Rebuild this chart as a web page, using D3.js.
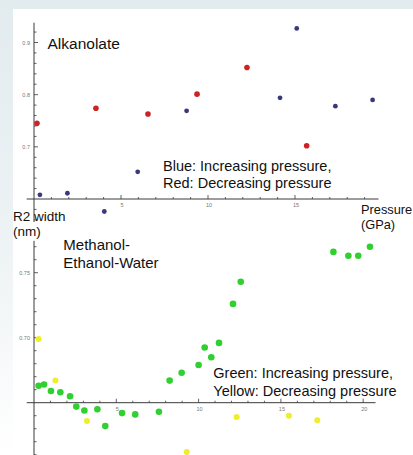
<!DOCTYPE html>
<html>
<head>
<meta charset="utf-8">
<script src="https://cdn.jsdelivr.net/npm/d3@7"></script>
<style>
  body { margin: 0; background: #fff; }
  text { font-family: "Liberation Sans", Arial, sans-serif; }
</style>
</head>
<body>
<div id="container"></div>
<script>
/* DATA */
// Alkanolate, blue = increasing pressure, red = decreasing pressure
const alkBlueP = [0.34, 1.92, 4.04, 5.96, 8.77, 14.14, 15.1, 17.32, 19.46];
const alkBlueR = [0.608, 0.611, 0.576, 0.652, 0.769, 0.794, 0.927, 0.778, 0.790];
const alkRedP = [0.17, 3.56, 6.55, 9.37, 12.24, 15.67];
const alkRedR = [0.745, 0.774, 0.763, 0.801, 0.852, 0.702];

// Methanol-Ethanol-Water, green = increasing, yellow = decreasing
const mewGreenP = [0.28, 0.61, 1.03, 1.6, 2.19, 2.57, 3.06, 3.85, 4.33, 5.35, 6.15, 7.59,
  8.24, 8.97, 10.0, 10.37, 10.77, 11.24, 12.09, 12.56, 18.19, 19.1, 19.7, 20.41];
const mewGreenR = [0.663, 0.664, 0.659, 0.658, 0.655, 0.647, 0.644, 0.645, 0.632, 0.642, 0.641, 0.643,
  0.667, 0.673, 0.679, 0.6925, 0.685, 0.696, 0.726, 0.743, 0.766, 0.763, 0.763, 0.770];
const mewYellowP = [0.28, 1.3, 3.22, 9.28, 12.31, 15.49, 17.21];
const mewYellowR = [0.699, 0.667, 0.636, 0.612, 0.639, 0.640, 0.6365];

// tick labels
const topXTicks = [5, 10, 15];
const topYTicks = [0.7, 0.8, 0.9];
const botXTicks = [5, 10, 15, 20];
const botYTicks = [0.70, 0.75];

/* CONSTANTS */
const width = 413, height = 455;
const axisColor = "#3a3a3a";

const svg = d3.select("#container")
  .append("svg")
  .attr("width", width)
  .attr("height", height);

// slide background: bluish band top and left fading out
const defs = svg.append("defs");
const grad = defs.append("linearGradient").attr("id", "leftFade")
  .attr("x1", 0).attr("y1", 0).attr("x2", 0).attr("y2", 1);
grad.append("stop").attr("offset", "0%").attr("stop-color", "#e2ebee");
grad.append("stop").attr("offset", "55%").attr("stop-color", "#eef3f5");
grad.append("stop").attr("offset", "100%").attr("stop-color", "#ffffff");
svg.append("rect").attr("x", 0).attr("y", 0).attr("width", width).attr("height", height).attr("fill", "#fff");
svg.append("rect").attr("x", 0).attr("y", 0).attr("width", 13).attr("height", height).attr("fill", "url(#leftFade)");
svg.append("rect").attr("x", 0).attr("y", 0).attr("width", width).attr("height", 9).attr("fill", "#e2ebee");

/* SCALES */
const xTop = d3.scaleLinear().domain([0, 20]).range([34, 382]);
const yTop = d3.scaleLinear().domain([0.6, 0.9]).range([199, 42.5]);
const xBot = d3.scaleLinear().domain([0, 20]).range([34, 363.2]);
const yBot = d3.scaleLinear().domain([0.65, 0.75]).range([402.7, 272.7]);

// draws a mathematica-like pair of axes crossing at (x0, y0)
function drawAxes(x, y, xExt, yExt, xMinor, yMinor, xLabels, yLabels, yFmt) {
  const g = svg.append("g");
  const ox = x(0), oy = y(y.domain()[0]);
  g.append("line")
    .attr("x1", x(xExt[0])).attr("x2", x(xExt[1]))
    .attr("y1", oy).attr("y2", oy)
    .attr("stroke", axisColor).attr("stroke-width", 1);
  g.append("line")
    .attr("x1", ox).attr("x2", ox)
    .attr("y1", y(yExt[0])).attr("y2", y(yExt[1]))
    .attr("stroke", axisColor).attr("stroke-width", 1);

  // x ticks (minor + major)
  const xt = d3.range(1, xExt[1] + 0.001, xMinor);
  g.selectAll(".xt").data(xt).join("line")
    .attr("x1", d => x(d)).attr("x2", d => x(d))
    .attr("y1", oy).attr("y2", d => oy - (Math.abs(d % 5) < 1e-6 ? 4 : 2))
    .attr("stroke", axisColor).attr("stroke-width", 0.8);

  // y ticks
  const y0 = y.domain()[0];
  const yt = d3.range(Math.ceil(yExt[0] / yMinor) * yMinor, yExt[1], yMinor)
    .filter(d => Math.abs(d - y0) > 1e-6);
  g.selectAll(".yt").data(yt).join("line")
    .attr("x1", ox).attr("x2", d => ox + (yLabels.some(v => Math.abs(v - d) < 1e-6) ? 4 : 2.5))
    .attr("y1", d => y(d)).attr("y2", d => y(d))
    .attr("stroke", axisColor).attr("stroke-width", 0.8);

  g.selectAll(".xl").data(xLabels).join("text")
    .attr("x", d => x(d) + 1).attr("y", oy + 8)
    .attr("text-anchor", "middle")
    .attr("font-size", 5.5).attr("fill", "#777")
    .text(d => d);
  g.selectAll(".yl").data(yLabels).join("text")
    .attr("x", ox - 4).attr("y", d => y(d) + 2)
    .attr("text-anchor", "end")
    .attr("font-size", 5.5).attr("fill", "#777")
    .text(yFmt);
}

drawAxes(xTop, yTop, [-0.42, 19.8], [0.556, 0.938], 1, 0.02, topXTicks, topYTicks, d3.format(".1f"));
drawAxes(xBot, yBot, [-0.44, 20.75], [0.609, 0.7745], 1, 0.01, botXTicks, botYTicks, d3.format(".2f"));

/* POINTS */
function dots(P, R, x, y, color, r) {
  svg.append("g").selectAll("circle")
    .data(P.map((p, i) => [p, R[i]]))
    .join("circle")
    .attr("cx", d => x(d[0]))
    .attr("cy", d => y(d[1]))
    .attr("r", r)
    .attr("fill", color);
}
dots(alkRedP, alkRedR, xTop, yTop, "#cc2424", 2.8);
dots(alkBlueP, alkBlueR, xTop, yTop, "#38387a", 2.4);
dots(mewGreenP, mewGreenR, xBot, yBot, "#2fd02f", 3.3);
dots(mewYellowP, mewYellowR, xBot, yBot, "#eeee2a", 3.0);

/* TEXT */
function label(x, y, size, lines, lh) {
  const t = svg.append("text").attr("x", x).attr("y", y)
    .attr("font-size", size).attr("fill", "#111");
  lines.forEach((s, i) => {
    t.append("tspan").attr("x", x).attr("dy", i === 0 ? 0 : lh).text(s);
  });
}
label(47.5, 48.5, 15.5, ["Alkanolate"], 0);
label(163, 170.5, 14.5, ["Blue: Increasing pressure,", "Red: Decreasing pressure"], 17.5);
label(13, 220.7, 13.5, ["R2 width", "(nm)"], 15.5);
label(361, 214, 12.8, ["Pressure", "(GPa)"], 15);
label(63.3, 250, 15, ["Methanol-", "Ethanol-Water"], 18.3);
label(213.3, 378.3, 14.5, ["Green: Increasing pressure,", "Yellow: Decreasing pressure"], 17.4);
</script>
</body>
</html>
